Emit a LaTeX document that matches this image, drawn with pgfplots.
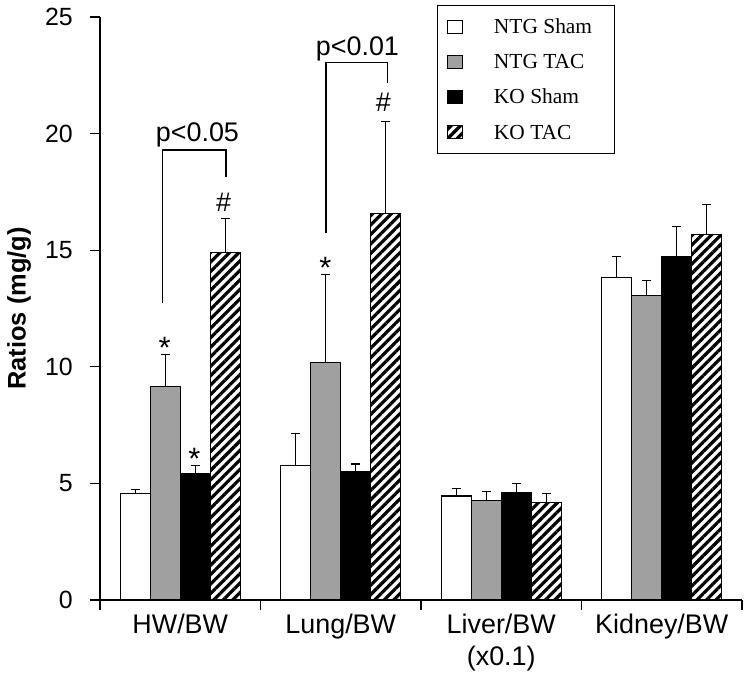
\documentclass[border=0pt]{standalone}
\usepackage{pgfplots}
\pgfplotsset{compat=1.18}
\usepackage{pgfplotstable}
\usepackage{fontspec}
\setmainfont{Liberation Sans}
\newfontfamily\legendfont{Liberation Serif}
\usetikzlibrary{patterns.meta}
\definecolor{tacgray}{RGB}{160,160,160}

% ratio, SEM (upper bar only)
\pgfplotstableread{
x y e
0 4.57 0.17
1 5.76 1.38
2 4.46 0.33
3 13.83 0.90
}\ntgsham
\pgfplotstableread{
x y e
0 9.17 1.36
1 10.19 3.77
2 4.26 0.38
3 13.06 0.64
}\ntgtac
\pgfplotstableread{
x y e
0 5.43 0.33
1 5.50 0.33
2 4.60 0.40
3 14.72 1.31
}\kosham
\pgfplotstableread{
x y e
0 14.90 1.46
1 16.57 3.96
2 4.19 0.38
3 15.67 1.30
}\kotac

\pgfplotsset{
  sqleg/.style={legend image code/.code={
      \draw[##1,line width=1.3bp] (0bp,-6.5bp) rectangle (15bp,6.5bp);
      \path (46bp,0bp);}},
  hatch/.style={pattern={Lines[angle=45,distance=6.7bp,line width=3.2bp]}},
}

\begin{document}
\begin{tikzpicture}
\begin{axis}[
  at={(100bp,81bp)}, anchor=south west,
  scale only axis, width=642bp, height=583bp,
  xmin=-0.5, xmax=3.5, ymin=0, ymax=25,
  axis x line*=bottom, axis y line*=left,
  axis line style={line width=1.3bp, black},
  ybar, bar width=0.187,
  xtick={-0.5,0.5,1.5,2.5,3.5},
  x tick label as interval,
  xticklabels={HW/BW,Lung/BW,{Liver/BW\\(x0.1)},Kidney/BW},
  xticklabel style={font=\fontsize{27}{33}\selectfont, align=center},
  ytick={0,5,10,15,20,25},
  yticklabel style={font=\fontsize{25}{30}\selectfont, inner xsep=17bp},
  /pgf/number format/assume math mode=true,
  tick align=outside,
  major tick length=10bp,
  tick style={line width=1.3bp, black},
  ylabel={Ratios (mg/g)},
  ylabel style={font=\fontsize{25.5}{30}\selectfont\bfseries,
    at={(axis description cs:-0.145,0.5)}, anchor=north, inner sep=0pt},
  legend cell align=left,
  legend style={at={(rel axis cs:0.525,1.0206)}, anchor=north west,
    draw=black, line width=1.3bp,
    font=\legendfont\fontsize{21.5}{21.5}\selectfont,
    inner xsep=9bp, inner ysep=14bp, row sep=20.8bp,
    nodes={inner sep=0pt, text height=14bp, text depth=0bp}},
  error bars/y dir=plus,
  error bars/y explicit,
  error bars/error bar style={line width=1.3bp, black},
  error bars/error mark options={rotate=90, mark size=4.5bp, line width=1.3bp, black},
]
\addplot[sqleg, draw=black, line width=1.3bp, fill=white, bar shift=-0.2805]
  table[x=x, y=y, y error=e] {\ntgsham};
\addlegendentry{NTG Sham\hspace*{13bp}}
\addplot[sqleg, draw=black, line width=1.3bp, fill=tacgray, bar shift=-0.0935]
  table[x=x, y=y, y error=e] {\ntgtac};
\addlegendentry{NTG TAC}
\addplot[sqleg, draw=black, line width=1.3bp, fill=black, bar shift=0.0935]
  table[x=x, y=y, y error=e] {\kosham};
\addlegendentry{KO Sham}
\addplot[sqleg, draw=black, line width=1.3bp, hatch, bar shift=0.2805]
  table[x=x, y=y, y error=e] {\kotac};
\addlegendentry{KO TAC}

% significance brackets and marks
\draw[line width=1.3bp] (axis cs:-0.109,12.72) -- (axis cs:-0.109,19.30)
  -- (axis cs:0.285,19.30) -- (axis cs:0.285,18.15);
\draw[line width=1.3bp] (axis cs:0.908,15.72) -- (axis cs:0.908,23.04)
  -- (axis cs:1.290,23.04) -- (axis cs:1.290,22.16);
\begin{scope}[every node/.style={anchor=base, inner sep=0pt, font=\fontsize{27}{30}\selectfont}]
\node at (axis cs:0.107,19.65) {p<0.05};
\node at (axis cs:1.104,23.37) {p<0.01};
\node at (axis cs:0.27,16.65) {\#};
\node at (axis cs:1.265,20.93) {\#};
\end{scope}
\begin{scope}[every node/.style={anchor=base, inner sep=0pt, font=\fontsize{31}{30}\selectfont}]
\node at (axis cs:-0.097,10.35) {*};
\node at (axis cs:0.088,5.60) {*};
\node at (axis cs:0.905,13.80) {*};
\end{scope}
\end{axis}
\pgfresetboundingbox
\useasboundingbox (0bp,0bp) rectangle (748bp,681bp);
\end{tikzpicture}
\end{document}
